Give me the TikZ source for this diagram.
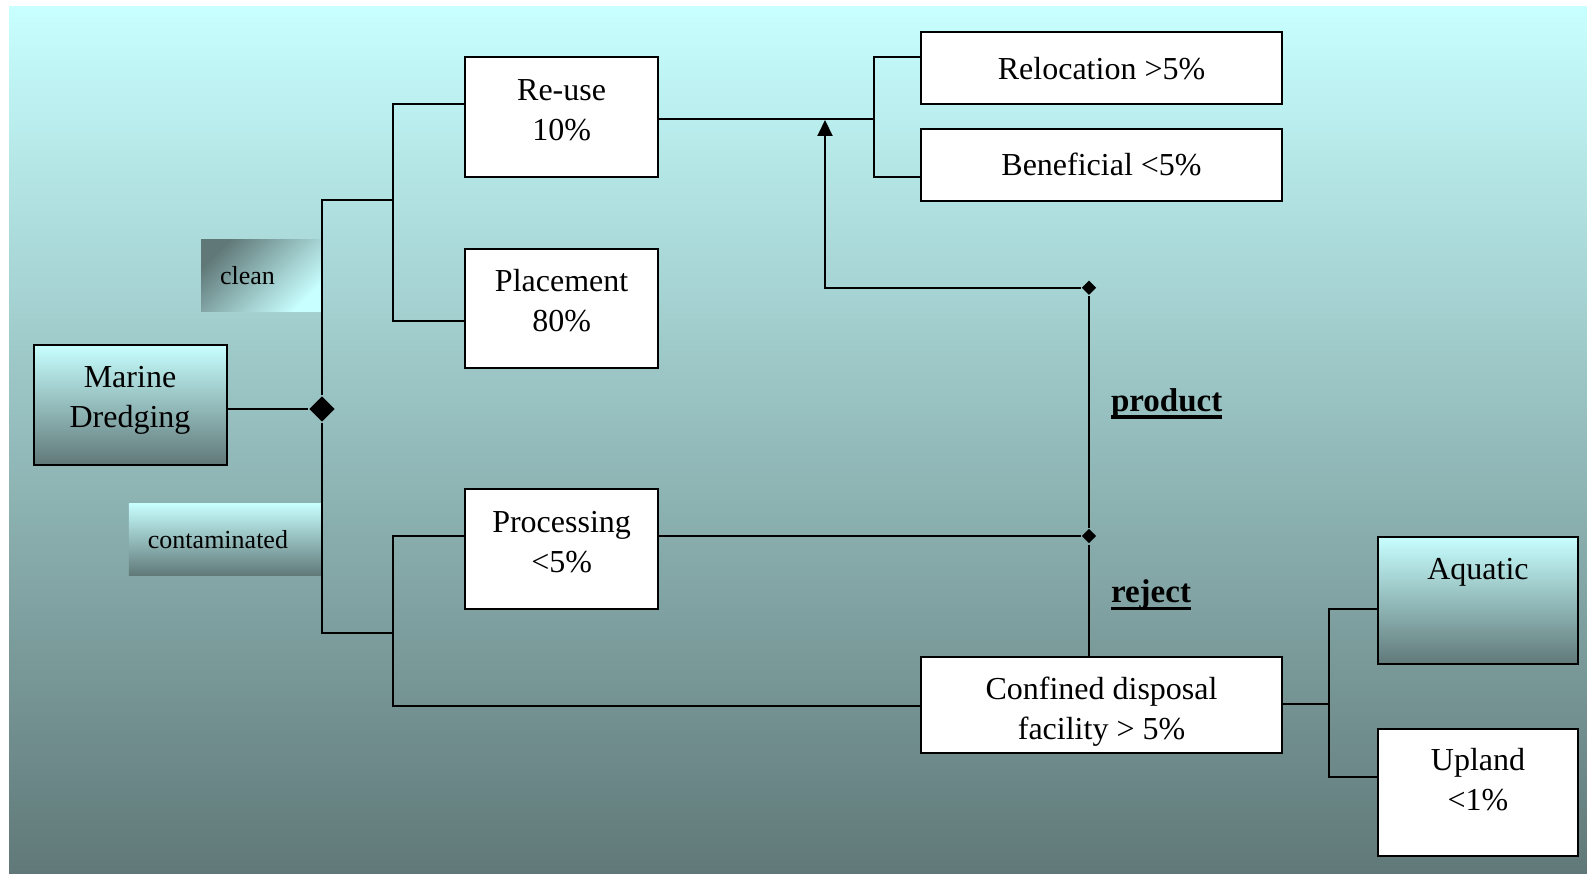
\documentclass[tikz,border=0pt]{standalone}
\usepackage{fontspec}
\setmainfont{Liberation Serif}
\usetikzlibrary{arrows.meta}
\usetikzlibrary{shapes.geometric}
\usetikzlibrary{positioning}

\definecolor{bgtop}{RGB}{200,255,255}
\definecolor{bgmid}{RGB}{160,202,202}
\definecolor{bgbot}{RGB}{96,120,120}

% one line of box text, with no height of its own
\newcommand{\boxline}[2][0pt]{\smash{\raisebox{#1}{#2}}}
% thick underline for the flow labels
\newcommand{\flowlabel}[1]{\setbox0\hbox{#1}\rlap{\rule[-7.5pt]{\wd0}{3.4pt}}\box0}

\begin{document}
\begin{tikzpicture}[x=1pt, y=-1pt, line width=2pt,
  box/.style={draw, fill=white, align=center, inner sep=0pt, font=\fontsize{32}{40}\selectfont},
  shadebox/.style={box, top color=bgtop, bottom color=bgbot},
  tag/.style={inner xsep=19pt, inner ysep=0pt, align=left, font=\fontsize{26}{30}\selectfont},
  junction/.style={diamond, fill=black, inner sep=0pt, minimum size=#1},
  note/.style={anchor=base west, inner sep=0pt, font=\fontsize{33}{40}\selectfont\bfseries}]
  \fill[white] (0,0) rectangle (1587,874);
  \useasboundingbox (0,0) rectangle (1587,874);
  \shade[top color=bgtop, middle color=bgmid, bottom color=bgbot] (9,7) rectangle (1587,874);

  % Source and split
  \node[shadebox, minimum width=193pt, minimum height=120pt] (md) at (130,405)
    {\boxline[-2.5pt]{Marine}\\\boxline[-2.5pt]{Dredging}};
  \node[tag, top color=bgbot, bottom color=bgtop, shading angle=45,
        text width=82.7pt, minimum height=72.7pt] (clean) at (261.4,275.4) {clean};
  \node[tag, top color=bgtop, bottom color=bgbot,
        text width=154.7pt, minimum height=72.4pt] (cont) at (225.3,539.5) {contaminated};
  \node[junction=26pt] (split) at (322,409) {};

  % Middle column
  \node[box, minimum width=192.3pt, minimum height=120.3pt] (reuse) at (561.6,116.9)
    {\boxline[-3.5pt]{Re-use}\\\boxline[-3.5pt]{10\%}};
  \node[box, minimum width=192.3pt, minimum height=119pt] (place) at (561.6,308.5)
    {\boxline[-3.5pt]{Placement}\\\boxline[-3.5pt]{80\%}};
  \node[box, minimum width=192.3pt, minimum height=120pt] (proc) at (561.6,549)
    {\boxline[-3.5pt]{Processing}\\\boxline[-3.5pt]{<5\%}};

  % Right column
  \node[box, minimum width=361pt, minimum height=71.6pt] (reloc) at (1101.5,68.2) {Relocation >5\%};
  \node[box, minimum width=361pt, minimum height=71.7pt] (benef) at (1101.5,164.9) {Beneficial <5\%};
  \node[box, minimum width=361pt, minimum height=96.3pt] (cdf) at (1101.5,704.9)
    {\boxline[-14.6pt]{Confined disposal}\\\boxline[-14.6pt]{facility > 5\%}};
  \node[shadebox, minimum width=200.6pt, minimum height=127.6pt] (aqua) at (1478,600.5)
    {\boxline[21.5pt]{Aquatic}};
  \node[box, minimum width=200.6pt, minimum height=126.7pt] (upl) at (1478,792.3)
    {\boxline[1.8pt]{Upland}\\\boxline[1.8pt]{<1\%}};

  \node[junction=15pt] (pj) at (1089,287.7) {};
  \node[junction=15pt] (rj) at (1089,536) {};
  \node[note] (prod) at (1110,411) {\flowlabel{product}};
  \node[note] (rej) at (1110,602.7) {\flowlabel{reject}};

  % Brackets
  \coordinate (bUp) at (392.7,104);
  \coordinate (bPl) at (392.7,321);
  \coordinate (bMid) at (392.7,200);
  \coordinate (cPr) at (392.7,536);
  \coordinate (cCd) at (392.7,705.5);
  \coordinate (cMid) at (392.7,633);
  \coordinate (rUp) at (874,56.7);
  \coordinate (rDn) at (874,176.7);
  \coordinate (rMid) at (874,119.3);
  \coordinate (dUp) at (1329.3,609);
  \coordinate (dDn) at (1329.3,776.7);
  \coordinate (dMid) at (1329.3,704.3);
  \coordinate (aTip) at (825,120);

  \draw (md.east |- split) -- (split);
  \draw (split) |- (bMid);
  \draw (split) |- (cMid);
  \draw (reuse.west |- bUp) -- (bUp) -- (bPl) -- (place.west |- bPl);
  \draw (proc.west |- cPr) -- (cPr) -- (cCd) -- (cdf.west |- cCd);
  \draw (reuse.east |- rMid) -- (rMid);
  \draw (reloc.west |- rUp) -- (rUp) -- (rDn) -- (benef.west |- rDn);
  \draw (proc.east |- rj) -- (rj);
  \draw (pj) -- (rj) -- (rj |- cdf.north);
  \draw[-{Triangle[width=15pt,length=16pt]}] (pj) -| (aTip);
  \draw (cdf.east |- dMid) -- (dMid);
  \draw (aqua.west |- dUp) -- (dUp) -- (dDn) -- (upl.west |- dDn);
\end{tikzpicture}
\end{document}
